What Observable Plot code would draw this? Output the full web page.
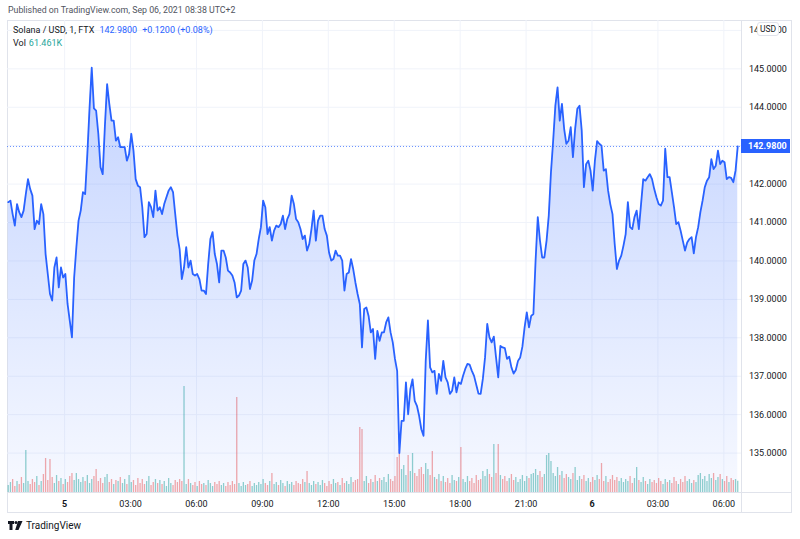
<!DOCTYPE html>
<html>
<head>
<meta charset="utf-8">
<script src="https://cdn.jsdelivr.net/npm/d3@7"></script>
<script src="https://cdn.jsdelivr.net/npm/@observablehq/plot@0.6"></script>
<style>
  html, body { margin: 0; padding: 0; background: #fff; }
  #wrap { position: relative; width: 800px; height: 539px; overflow: hidden; font-family: Roboto, "Noto Sans", sans-serif; color: #131722; }
  .layer { position: absolute; left: 7px; top: 20px; width: 785px; height: 493px; }
  .layer svg { display: block; max-width: none !important; background: transparent !important; }
  .abs { position: absolute; white-space: nowrap; z-index: 5; }
  #pub { left: 8px; top: 5px; font-size: 8.8px; color: #50535e; }
  #leg1 { left: 13px; top: 25px; font-size: 9px; color: #131722; }
  #leg2 { left: 13px; top: 38px; font-size: 9px; color: #131722; }
  .blue { color: #2962ff; margin-left: 5px; }
  .teal { color: #26a69a; margin-left: 3px; }
  #frame { left: 7px; top: 20px; width: 785px; height: 493px; box-sizing: border-box; border: 1px solid #e0e3eb; z-index: 0; }
  #vsep { left: 741px; top: 20px; width: 1px; height: 493px; background: #e0e3eb; }
  #hsep { left: 7px; top: 492px; width: 785px; height: 1px; background: #e0e3eb; }
  #usd { left: 757px; top: 22px; width: 22px; height: 14px; box-sizing: border-box; border: 1px solid #e0e3eb; border-radius: 3px; background: #fff; font-size: 8.5px; line-height: 12px; text-align: center; color: #131722; }
  #lastLabel { left: 741px; width: 49px; height: 14px; background: #2962ff; color: #fff; font-size: 9px; font-weight: bold; line-height: 14px; box-sizing: border-box; padding-left: 7px; z-index: 6; }
  #brand { left: 8px; top: 520px; font-size: 10px; color: #131722; display: flex; align-items: center; gap: 3px; }
</style>
</head>
<body>
<div id="wrap">
  <div id="frame" class="abs"></div>
  <div id="layerA" class="layer"></div>
  <div id="layerB" class="layer"></div>
  <div id="layerC" class="layer"></div>
  <div id="vsep" class="abs"></div>
  <div id="hsep" class="abs"></div>
  <div id="pub" class="abs"></div>
  <div id="leg1" class="abs"></div>
  <div id="leg2" class="abs"></div>
  <div id="usd" class="abs">USD</div>
  <div id="lastLabel" class="abs"></div>
  <div id="brand" class="abs">
    <svg width="15" height="9" viewBox="0 0 15 9"><path d="M0 0h6v3H4.5v6H1.5V3H0z" fill="#131722"/><circle cx="8" cy="1.6" r="1.5" fill="#131722"/><path d="M10 0h4.5L10.5 9H7.2z" fill="#131722"/></svg>
    <span>TradingView</span>
  </div>
</div>
<script>
// ---------- data ----------
const publishedText = "Published on TradingView.com, Sep 06, 2021 08:38 UTC+2";
const symbolText = "Solana / USD, 1, FTX";
const lastPrice = 142.98;
const changeText = "+0.1200 (+0.08%)";
const volumeText = "61.461K";

const startUTC = Date.UTC(2021, 8, 4, 21, 26);   // first sample (UTC+2 wall time)
const stepMinutes = 6;

const prices = [
141.53,141.57,141.22,140.92,141.48,141.27,141.14,141.31,141.74,142.13,
141.87,141.70,140.83,141.05,140.96,141.48,141.22,140.18,139.66,139.14,
138.97,139.83,140.09,139.31,139.83,139.57,139.66,138.88,138.45,138.01,
139.57,140.35,141.05,141.31,141.79,141.74,142.78,143.97,145.03,143.97,
143.91,143.31,142.44,142.26,143.52,144.60,144.09,143.65,143.65,143.13,
143.22,142.96,142.96,142.96,142.61,142.78,143.31,142.87,142.13,141.96,
141.92,141.40,140.62,140.70,141.53,141.40,141.14,141.83,141.31,141.40,
141.22,141.48,141.66,141.83,141.92,141.79,141.22,140.66,140.31,139.53,
139.83,140.36,139.83,140.01,139.66,139.62,139.66,139.53,139.23,139.23,
139.14,139.92,140.57,140.75,140.18,139.92,139.44,140.27,140.27,140.09,
139.75,139.70,139.62,139.44,139.05,139.10,139.23,139.92,140.01,139.83,
139.27,139.49,140.01,140.18,140.57,140.88,141.57,141.40,140.70,140.88,
140.53,140.79,140.92,140.88,140.96,141.18,140.83,141.09,141.22,141.70,
141.48,141.09,141.01,140.83,140.57,140.66,140.27,140.44,140.83,141.31,
140.53,141.05,141.18,141.18,140.83,140.66,140.22,140.01,140.05,140.27,
140.14,140.14,140.01,139.23,139.66,139.70,140.05,139.79,139.44,139.14,
138.88,137.75,138.75,138.79,138.57,138.14,138.23,137.45,138.18,137.92,
138.14,138.14,138.40,138.53,138.14,137.88,137.45,137.14,135.00,135.84,
135.84,136.84,136.01,136.66,136.92,136.36,136.23,135.97,135.62,135.45,
137.40,138.45,137.23,137.10,137.14,136.54,137.06,136.88,137.40,136.97,
136.84,136.54,136.62,136.97,136.58,136.84,136.80,137.01,137.19,137.32,
137.30,137.14,137.01,136.78,136.55,136.54,136.93,137.49,138.36,138.01,
137.88,138.03,137.49,136.97,137.79,137.75,137.73,137.45,137.51,137.23,
137.07,137.16,137.40,137.49,137.77,138.27,138.66,138.27,138.57,138.62,
140.01,141.14,140.53,140.09,140.09,140.53,141.18,142.31,143.13,144.04,
144.52,143.65,144.09,143.44,143.05,143.13,143.48,142.70,143.44,143.96,
144.04,143.39,141.92,142.52,142.61,142.35,141.83,142.61,143.12,143.05,
143.00,142.35,142.39,141.83,141.48,141.22,140.44,139.79,140.01,140.14,
140.40,140.70,141.53,140.88,140.83,141.14,141.31,140.83,141.48,142.13,
142.09,142.18,142.26,142.13,141.87,141.66,141.48,141.44,141.57,142.92,
142.18,142.18,141.79,141.40,140.96,141.01,140.79,140.53,140.27,140.48,
140.57,140.62,140.20,140.62,140.88,141.27,141.57,141.92,142.09,142.18,
142.65,142.39,142.48,142.87,142.52,142.61,142.57,142.13,142.18,142.16,
142.05,142.35,142.98
];

const volumesK = [
40,55,70,35,60,45,80,50,215,60,
45,70,55,85,40,60,95,175,65,170,
80,50,90,60,75,45,70,55,85,100,
65,100,70,55,80,60,90,50,70,85,
120,60,75,50,80,95,55,70,45,65,
60,80,50,70,45,90,55,65,40,75,
50,70,45,60,85,40,55,70,50,65,
45,60,35,75,50,40,65,55,70,60,
535,45,70,50,40,55,35,60,45,50,
40,65,50,35,55,45,60,40,50,35,
55,40,60,45,480,50,35,55,40,45,
60,35,50,40,55,45,70,50,40,60,
100,45,55,40,65,50,35,60,45,55,
40,60,50,45,70,55,110,50,40,60,
45,55,40,65,50,35,60,45,70,50,
55,40,75,50,60,45,80,55,65,70,
330,320,60,85,50,70,55,90,60,75,
65,80,55,95,70,60,85,180,220,120,
140,90,190,110,200,100,85,120,130,95,
150,120,90,210,80,70,95,60,85,55,
75,50,90,65,60,80,230,70,55,85,
60,75,50,90,65,70,110,85,120,95,
80,245,100,245,90,70,85,60,75,95,
65,80,55,70,90,60,85,75,95,100,
120,90,110,80,95,190,200,160,100,85,
130,90,110,75,95,80,70,100,130,65,
85,70,90,60,75,55,80,65,90,70,
150,60,85,55,70,90,65,80,60,75,
55,70,60,85,50,75,130,65,55,80,
60,45,70,55,65,50,75,60,45,70,
55,65,50,80,60,45,70,55,85,60,
70,50,65,55,90,100,70,85,60,95,
75,100,65,80,95,70,60,85,55,75,
65,70,61
];

const tickTimes = [
  Date.UTC(2021,8,5,0), Date.UTC(2021,8,5,3), Date.UTC(2021,8,5,6), Date.UTC(2021,8,5,9),
  Date.UTC(2021,8,5,12), Date.UTC(2021,8,5,15), Date.UTC(2021,8,5,18), Date.UTC(2021,8,5,21),
  Date.UTC(2021,8,6,0), Date.UTC(2021,8,6,3), Date.UTC(2021,8,6,6)
];
const tickLabels = ["5","03:00","06:00","09:00","12:00","15:00","18:00","21:00","6","03:00","06:00"];
const priceTicks = [135,136,137,138,139,140,141,142,143,144,145,146];

const xDomain = [new Date(Date.UTC(2021,8,4,21,24)), new Date(Date.UTC(2021,8,6,6,51))];
const yDomain = [133.948, 146.258];
const volDomain = [0, 600];

// ---------- header ----------
document.getElementById("pub").textContent = publishedText;
document.getElementById("leg1").innerHTML = symbolText + '<span class="blue">' + lastPrice.toFixed(4) + '</span><span class="blue">' + changeText + '</span>';
document.getElementById("leg2").innerHTML = 'Vol<span class="teal">' + volumeText + '</span>';

// ---------- table ----------
const data = prices.map((p, i) => ({
  t: new Date(startUTC + i * stepMinutes * 60000),
  p,
  v: volumesK[i],
  c: (i === 0 || p >= prices[i - 1]) ? "rgba(38,166,154,0.5)" : "rgba(239,83,80,0.5)"
}));
const ticks = tickTimes.map((t, i) => ({t: new Date(t), label: tickLabels[i], day: !tickLabels[i].includes(":")}));

const W = 785, H = 493;
const common = {
  width: W, height: H, marginLeft: 0, marginTop: 0, marginRight: 50, marginBottom: 20,
  style: {background: "transparent", fontFamily: "Roboto, sans-serif", fontSize: "9px", color: "#131722", overflow: "visible"}
};

// Layer A: grid + axis labels
const A = Plot.plot({
  ...common,
  x: {type: "utc", domain: xDomain, axis: null},
  y: {domain: yDomain, axis: null},
  marks: [
    Plot.ruleY(priceTicks, {y: d => d, stroke: "#f0f3fa", strokeWidth: 1}),
    Plot.ruleX(ticks, {x: "t", stroke: "#f0f3fa", strokeWidth: 1}),
    Plot.text(priceTicks, {y: d => d, text: d => d.toFixed(4), frameAnchor: "right", dx: 6.5, textAnchor: "start", fill: "#131722", fontSize: 9}),
    Plot.text(ticks.filter(d => !d.day), {x: "t", text: "label", frameAnchor: "bottom", dy: 10.5, lineAnchor: "middle", fill: "#131722", fontSize: 9}),
    Plot.text(ticks.filter(d => d.day), {x: "t", text: "label", frameAnchor: "bottom", dy: 10.5, lineAnchor: "middle", fill: "#131722", fontSize: 9, fontWeight: "bold"})
  ]
});
document.getElementById("layerA").append(A);

// Layer B: volume
const B = Plot.plot({
  ...common,
  x: {type: "utc", domain: xDomain, axis: null},
  y: {domain: volDomain, range: [H - 20, H - 20 - 120], axis: null},
  color: {type: "identity"},
  marks: [
    Plot.ruleX(data, {x: "t", y1: 0, y2: "v", stroke: "c", strokeWidth: 1.3})
  ]
});
document.getElementById("layerB").append(B);

// Layer C: area + line + last price
const C = Plot.plot({
  ...common,
  x: {type: "utc", domain: xDomain, axis: null},
  y: {domain: yDomain, axis: null},
  marks: [
    Plot.areaY(data, {x: "t", y1: yDomain[0], y2: "p", fill: "#2962ff"}),
    Plot.ruleY([lastPrice], {stroke: "#2962ff", strokeOpacity: 0.7, strokeDasharray: "1,2", strokeWidth: 1}),
    Plot.lineY(data, {x: "t", y: "p", stroke: "#2962ff", strokeWidth: 1.8, strokeLinejoin: "round"})
  ]
});
document.getElementById("layerC").append(C);

(function () {
  const svg = d3.select(C);
  const defs = svg.insert("defs", ":first-child");
  const g = defs.append("linearGradient").attr("id", "areaGrad").attr("x1", 0).attr("y1", 0).attr("x2", 0).attr("y2", 1);
  g.append("stop").attr("offset", "0%").attr("stop-color", "rgba(41,98,255,0.28)");
  g.append("stop").attr("offset", "100%").attr("stop-color", "rgba(41,98,255,0.04)");
  svg.selectAll('g[aria-label="area"] path').attr("fill", "url(#areaGrad)").attr("fill-opacity", 1);
  const y = C.scale("y").apply(lastPrice);
  const lab = document.getElementById("lastLabel");
  lab.style.top = (20 + y - 7) + "px";
  lab.textContent = lastPrice.toFixed(4);
})();
</script>
</body>
</html>
